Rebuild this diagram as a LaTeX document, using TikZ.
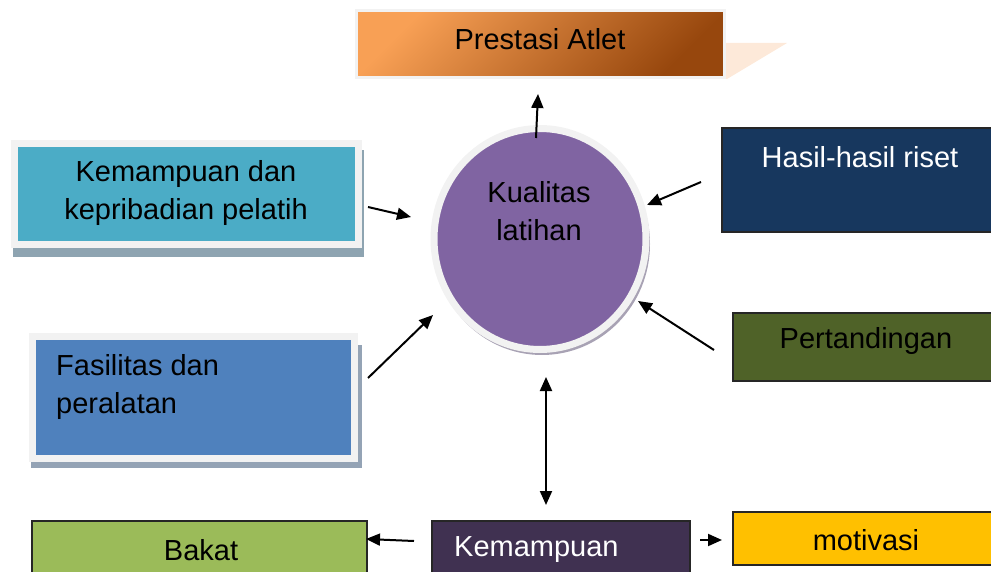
\documentclass[tikz,border=0pt]{standalone}
\usepackage{fontspec}
\setmainfont{Liberation Sans}
\usetikzlibrary{arrows.meta,shapes.geometric}
\definecolor{ringc}{HTML}{F2F2F2}
\definecolor{orlight}{HTML}{F8A055}
\definecolor{ordark}{HTML}{97470D}
\definecolor{peach}{HTML}{FDE9D9}
\definecolor{tealc}{HTML}{4BACC6}
\definecolor{bluec}{HTML}{4F81BD}
\definecolor{shteal}{HTML}{8EA4B1}
\definecolor{shblue}{HTML}{94A3B5}
\definecolor{navyc}{HTML}{17375E}
\definecolor{olivec}{HTML}{4F6228}
\definecolor{greenc}{HTML}{9BBB59}
\definecolor{dpurple}{HTML}{403151}
\definecolor{goldc}{HTML}{FFC000}
\definecolor{purplec}{HTML}{8064A2}
\definecolor{circsh}{HTML}{A8A2B4}
\begin{document}
\begin{tikzpicture}[x=1pt,y=-1pt,
  every node/.style={font={\fontsize{29}{38}\selectfont}},
  ringbox/.style={draw=ringc, rectangle, inner sep=0, outer sep=0, anchor=north west},
  darkbox/.style={draw=black!85, line width=1.5pt, rectangle, inner sep=0, outer sep=0, anchor=north west},
  lbl/.style={inner sep=0, align=center},
  conn/.style={line width=2pt, -{Triangle[length=14pt,width=12pt]}},
  dconn/.style={line width=2pt, {Triangle[length=14pt,width=12pt]}-{Triangle[length=14pt,width=12pt]}}
]
\useasboundingbox (0,0) rectangle (991,572);
\clip (0,0) rectangle (991,572);

% top box
\fill[peach] (720,43) -- (787,43) -- (727,79) -- (720,79) -- cycle;
\node[ringbox, line width=3pt, top color=orlight, bottom color=ordark, shading angle=45,
      minimum width=367.5pt, minimum height=67.5pt] (pa) at (356.5,10.5) {};
\node[lbl] (pat) at (540,39) {Prestasi Atlet};

% left boxes
\fill[shteal] (13,150) rectangle (364,257);
\node[ringbox, line width=7pt, fill=tealc, minimum width=344pt, minimum height=101.5pt] (pel) at (14,143.5) {};
\node[lbl] (pelt) at (186,193) {Kemampuan dan\\kepribadian pelatih};

\fill[shblue] (31,345) rectangle (362,468);
\node[ringbox, line width=7pt, fill=bluec, minimum width=322.5pt, minimum height=122pt] (fas) at (32,336) {};
\node[lbl, anchor=west, align=left] (fast) at (56,387) {Fasilitas dan\\peralatan};

% circle
\fill[circsh] (542,244) ellipse [x radius=108, y radius=111];
\node[ellipse, draw=ringc, line width=7pt, fill=purplec, minimum width=212pt, minimum height=221pt, inner sep=0] (kl) at (540,239) {};
\node[lbl] (klt) at (539,211) {Kualitas\\latihan};

% right boxes
\node[darkbox, fill=navyc, minimum width=278pt, minimum height=104pt] (hr) at (722,128) {};
\node[lbl, text=white] (hrt) at (860,157) {Hasil-hasil riset};
\node[darkbox, fill=olivec, minimum width=270pt, minimum height=68pt] (pt) at (733,313) {};
\node[lbl] (ptt) at (866,341) {Pertandingan};

% bottom boxes
\node[darkbox, fill=greenc, minimum width=335pt, minimum height=90pt] (bk) at (32,521) {};
\node[lbl] (bkt) at (201,550) {Bakat};
\node[darkbox, fill=dpurple, minimum width=258pt, minimum height=90pt] (km) at (432,521) {};
\node[lbl, anchor=west, text=white] (kmt) at (454,550) {Kemampuan};
\node[darkbox, fill=goldc, minimum width=270pt, minimum height=53pt] (mv) at (733,512) {};
\node[lbl] (mvt) at (866,540) {motivasi};

% connectors
\coordinate (a1s) at (536,138); \coordinate (a1e) at (538,94);
\draw[conn] (a1s) -- (a1e);
\coordinate (a2s) at (368,207); \coordinate (a2e) at (411,217);
\draw[conn] (a2s) -- (a2e);
\coordinate (a3s) at (368,378); \coordinate (a3e) at (433,315);
\draw[conn] (a3s) -- (a3e);
\coordinate (a4s) at (701,182); \coordinate (a4e) at (647,205);
\draw[conn] (a4s) -- (a4e);
\coordinate (a5s) at (714,350); \coordinate (a5e) at (638,301);
\draw[conn] (a5s) -- (a5e);
\coordinate (a6s) at (546,377); \coordinate (a6e) at (546,505);
\draw[dconn] (a6s) -- (a6e);
\coordinate (a7s) at (414,541); \coordinate (a7e) at (366,539);
\draw[conn] (a7s) -- (a7e);
\coordinate (a8s) at (700,540); \coordinate (a8e) at (722,540);
\draw[conn] (a8s) -- (a8e);
\end{tikzpicture}
\end{document}
